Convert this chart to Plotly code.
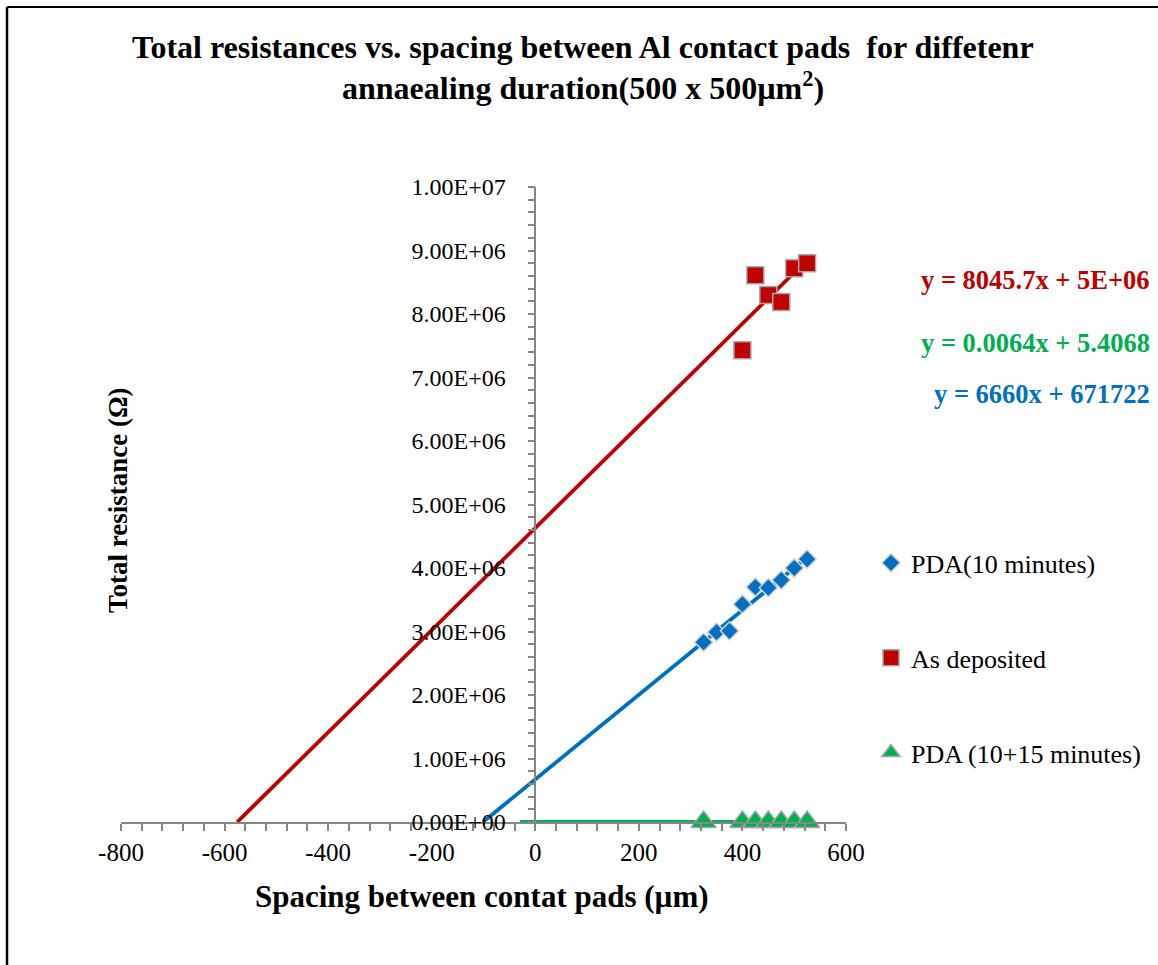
import plotly.graph_objects as go
import numpy as np

# ---- data ----
blue_x = [325, 350, 375, 400, 425, 450, 475, 500, 525]
blue_y = [2.83e6, 2.99e6, 3.01e6, 3.43e6, 3.70e6, 3.69e6, 3.81e6, 4.00e6, 4.14e6]
red_x = [400, 425, 450, 475, 500, 525]
red_y = [7.43e6, 8.61e6, 8.30e6, 8.19e6, 8.72e6, 8.80e6]
green_x = [325, 400, 425, 450, 475, 500, 525]
green_y = [7.5, 7.9, 8.1, 8.3, 8.4, 8.6, 8.8]

# trendline coefficients (slope, intercept) and forecast start
red_fit = (8045.7, 4.63e6)
blue_fit = (6660.0, 671722.0)
green_fit = (0.0064, 5.4068)
red_trend_start = -575.5
blue_trend_start = -100.9
green_trend_start = -30.0

eq_red = "y = 8045.7x + 5E+06"
eq_green = "y = 0.0064x + 5.4068"
eq_blue = "y = 6660x + 671722"

x_ticks = [-800, -600, -400, -200, 0, 200, 400, 600]
x_ticktext = ["-800", "-600", "-400", "-200", "0", "200", "400", "600"]
y_ticks = [0, 1e6, 2e6, 3e6, 4e6, 5e6, 6e6, 7e6, 8e6, 9e6, 1e7]
y_ticktext = ["0.00E+00", "1.00E+06", "2.00E+06", "3.00E+06", "4.00E+06", "5.00E+06",
              "6.00E+06", "7.00E+06", "8.00E+06", "9.00E+06", "1.00E+07"]

RED = "#C00000"
BLUE = "#0070C0"
GREEN = "#00B050"
AX = "#868686"
FONT = "Liberation Serif"

fig = go.Figure()

def trend(fit, x0, x1):
    xs = np.array([x0, x1])
    return xs, fit[0] * xs + fit[1]

for fit, start, xs, col in [(red_fit, red_trend_start, red_x, RED),
                            (blue_fit, blue_trend_start, blue_x, BLUE),
                            (green_fit, green_trend_start, green_x, GREEN)]:
    tx, ty = trend(fit, start, max(xs))
    fig.add_trace(go.Scatter(x=tx, y=ty, mode="lines", line=dict(color=col, width=3.8),
                             showlegend=False, hoverinfo="skip", cliponaxis=False))

fig.add_trace(go.Scatter(x=blue_x, y=blue_y, mode="markers", name="PDA(10 minutes)",
                         legendgroup="a",
                         marker=dict(symbol="diamond", size=14, color=BLUE,
                                     line=dict(color="#D0D0D0", width=1.5))))
fig.add_trace(go.Scatter(x=red_x, y=red_y, mode="markers", name="As deposited",
                         legendgroup="b",
                         marker=dict(symbol="square", size=17, color=RED,
                                     line=dict(color="#A6A6A6", width=1.5))))
fig.add_trace(go.Scatter(x=green_x, y=green_y, mode="markers", name="PDA (10+15 minutes)",
                         legendgroup="c", cliponaxis=False,
                         marker=dict(symbol="triangle-up", size=22, color=GREEN,
                                     line=dict(color="#A6A6A6", width=1.5))))

fig.update_layout(
    width=1158, height=965,
    margin=dict(l=121, r=312, t=187, b=143),
    paper_bgcolor="white", plot_bgcolor="white",
    font=dict(family=FONT, size=24, color="black"),
    showlegend=True,
    legend=dict(x=1.0345, xanchor="left", y=0.445, yanchor="top",
                font=dict(family=FONT, size=26), tracegroupgap=58,
                bgcolor="rgba(0,0,0,0)", itemsizing="trace"),
    xaxis=dict(range=[-800, 600], tickvals=x_ticks, ticktext=x_ticktext, showgrid=False, zeroline=False,
               showline=True, linecolor=AX, linewidth=1.5,
               ticks="outside", ticklen=7, tickcolor=AX, tickwidth=1.5,
               minor=dict(dtick=40, tick0=-800, ticks="outside", ticklen=7, tickcolor=AX, tickwidth=1.5),
               tickfont=dict(family=FONT, size=25)),
    yaxis=dict(range=[0, 1e7], tickvals=y_ticks, ticktext=y_ticktext, showgrid=False,
               zeroline=False, anchor="free", position=800/1400,
               showline=True, linecolor=AX, linewidth=1.5,
               ticks="outside", ticklen=7, tickcolor=AX, tickwidth=1.5,
               minor=dict(dtick=2e5, tick0=0, ticks="outside", ticklen=7, tickcolor=AX, tickwidth=1.5),
               ticklabelstandoff=17,
               tickfont=dict(family=FONT, size=24)),
)

def px_x(p):
    return (p - 121) / 725

def px_y(p):
    return (822 - p) / 635

# title (two lines)
fig.add_annotation(text="<b>Total resistances vs. spacing between Al contact pads  for diffetenr</b>",
                   xref="paper", yref="paper", x=px_x(583), y=px_y(47),
                   xanchor="center", yanchor="middle", showarrow=False,
                   font=dict(family=FONT, size=32))
fig.add_annotation(text="<b>annaealing duration(500 x 500µm<sup>2</sup>)</b>",
                   xref="paper", yref="paper", x=px_x(583), y=px_y(86),
                   xanchor="center", yanchor="middle", showarrow=False,
                   font=dict(family=FONT, size=32))

# axis titles
fig.add_annotation(text="<b>Total resistance (Ω)</b>", xref="paper", yref="paper",
                   x=px_x(118), y=px_y(500), textangle=-90,
                   xanchor="center", yanchor="middle",
                   showarrow=False, font=dict(family=FONT, size=27))
fig.add_annotation(text="<b>Spacing between contat pads (µm)</b>", xref="paper", yref="paper",
                   x=px_x(482), y=px_y(896), xanchor="center", yanchor="middle",
                   showarrow=False, font=dict(family=FONT, size=31))

# equations
for txt, col, py in [(eq_red, RED, 280), (eq_green, GREEN, 343), (eq_blue, BLUE, 394)]:
    fig.add_annotation(text=f"<b>{txt}</b>", xref="paper", yref="paper",
                       x=px_x(1152), xanchor="right", y=px_y(py), yanchor="middle",
                       showarrow=False, font=dict(family=FONT, size=26.5, color=col))

# chart frame (left and top edges)
fig.add_shape(type="line", xref="paper", yref="paper",
              x0=px_x(7), x1=px_x(7), y0=px_y(7), y1=px_y(980),
              line=dict(color="black", width=2.5))
fig.add_shape(type="line", xref="paper", yref="paper",
              x0=px_x(7), x1=px_x(1170), y0=px_y(7), y1=px_y(7),
              line=dict(color="black", width=2))

fig.write_html("out.html")
